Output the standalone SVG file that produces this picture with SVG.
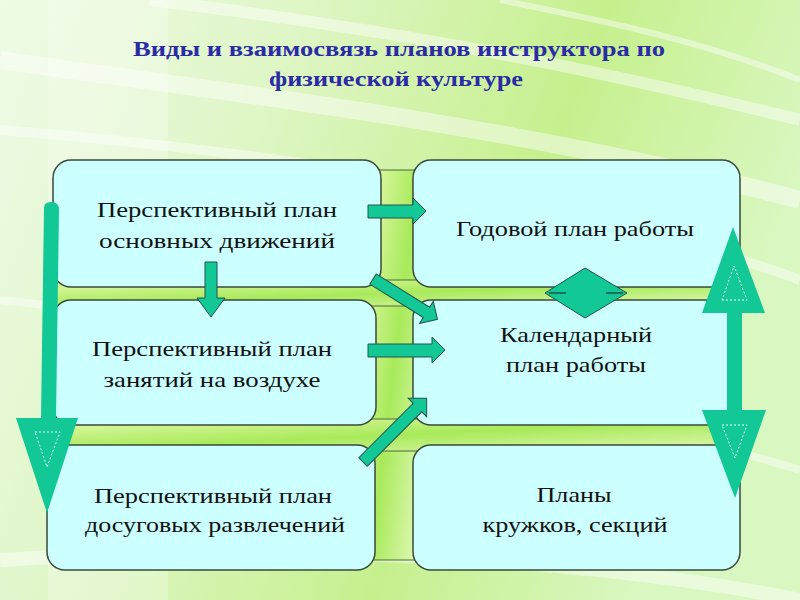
<svg xmlns="http://www.w3.org/2000/svg" width="800" height="600" viewBox="0 0 800 600">
<defs>
<linearGradient id="bg" x1="0" y1="0" x2="1" y2="0.3">
<stop offset="0" stop-color="#eefbe6"/>
<stop offset="0.35" stop-color="#dff6c6"/>
<stop offset="0.7" stop-color="#c6f08e"/>
<stop offset="1" stop-color="#d9f7c0"/>
</linearGradient>
<linearGradient id="strip" x1="0" y1="0" x2="1" y2="1">
<stop offset="0" stop-color="#e6fab0"/>
<stop offset="0.5" stop-color="#a8ea5a"/>
<stop offset="1" stop-color="#e2f8b8"/>
</linearGradient>
<style>
.box{fill:#ccffff;stroke:#3a4a3a;stroke-width:1.5}
.t{font-family:"Liberation Serif","Times New Roman",serif;font-size:22px;fill:#111;text-anchor:middle}
.title{font-family:"Liberation Serif","Times New Roman",serif;font-size:21px;font-weight:bold;fill:#2b2ba6;text-anchor:middle}
.arr{fill:#12c896;stroke:#24524a;stroke-width:1}
.big{fill:#12c896}
.dash{fill:none;stroke:#e8fff0;stroke-width:1;stroke-dasharray:2 2}
.streak{fill:none;stroke:#ffffff}
</style>
</defs>
<rect width="800" height="600" fill="url(#bg)"/>
<g opacity="0.45">
<path class="streak" d="M0,60 C200,90 500,120 800,200" stroke-width="18"/>
<path class="streak" d="M0,130 C250,150 550,190 800,280" stroke-width="10"/>
<path class="streak" d="M150,0 C400,30 600,70 800,120" stroke-width="12"/>
<path class="streak" d="M0,300 C200,320 500,380 800,470" stroke-width="8"/>
<path class="streak" d="M0,560 C300,540 600,560 800,600" stroke-width="14"/>
<path class="streak" d="M500,0 C600,20 700,40 800,80" stroke-width="6"/>
</g>
<rect x="48" y="0" width="120" height="600" fill="#ffffff" opacity="0.25"/>
<g id="frame">
<rect x="370" y="170" width="48" height="390" fill="url(#strip)" stroke="#4a6a3a" stroke-width="1"/>
<rect x="55" y="280" width="685" height="26" fill="url(#strip)" stroke="#4a6a3a" stroke-width="1"/>
<rect x="52" y="419" width="688" height="32" fill="url(#strip)" stroke="#4a6a3a" stroke-width="1"/>
</g>
<g id="title">
<text class="title" x="399" y="56" textLength="532" lengthAdjust="spacingAndGlyphs">Виды и взаимосвязь планов инструктора по</text>
<text class="title" x="396" y="86" textLength="254" lengthAdjust="spacingAndGlyphs">физической культуре</text>
</g>
<g id="n1"><rect class="box" x="53" y="160" width="328" height="127" rx="18"/>
<text class="t" x="217" y="217" textLength="240" lengthAdjust="spacingAndGlyphs">Перспективный план</text>
<text class="t" x="217" y="248" textLength="236" lengthAdjust="spacingAndGlyphs">основных движений</text></g>
<g id="n2"><rect class="box" x="53" y="300" width="323" height="125" rx="18"/>
<text class="t" x="212" y="356" textLength="240" lengthAdjust="spacingAndGlyphs">Перспективный план</text>
<text class="t" x="212" y="387" textLength="217" lengthAdjust="spacingAndGlyphs">занятий на воздухе</text></g>
<g id="n3"><rect class="box" x="47" y="445" width="328" height="125" rx="18"/>
<text class="t" x="213" y="503" textLength="238" lengthAdjust="spacingAndGlyphs">Перспективный план</text>
<text class="t" x="215" y="532" textLength="260" lengthAdjust="spacingAndGlyphs">досуговых развлечений</text></g>
<g id="n4"><rect class="box" x="413" y="160" width="327" height="127" rx="18"/>
<text class="t" x="575" y="236" textLength="238" lengthAdjust="spacingAndGlyphs">Годовой план работы</text></g>
<g id="n5"><rect class="box" x="413" y="300" width="327" height="125" rx="18"/>
<text class="t" x="576" y="342" textLength="152" lengthAdjust="spacingAndGlyphs">Календарный</text>
<text class="t" x="576" y="372" textLength="140" lengthAdjust="spacingAndGlyphs">план работы</text></g>
<g id="n6"><rect class="box" x="413" y="445" width="327" height="125" rx="18"/>
<text class="t" x="574" y="502" textLength="75" lengthAdjust="spacingAndGlyphs">Планы</text>
<text class="t" x="575" y="532" textLength="185" lengthAdjust="spacingAndGlyphs">кружков, секций</text></g>
<g id="connectors">
<polygon class="arr" points="368,205 413,205 413,198 426,211 413,224 413,218 368,218"/>
<polygon class="arr" points="205,262 217,262 217,298 225,298 211,317 197,298 205,298"/>
<polygon class="arr" points="368,344 432,344 432,337 445,350 432,363 432,357 368,357"/>
<g transform="translate(373,279) rotate(32)"><polygon class="arr" points="0,-6 63,-6 63,-13 76,0 63,13 63,6 0,6"/></g>
<g transform="translate(363,462) rotate(-45)"><polygon class="arr" points="0,-6 77,-6 77,-13 90,0 77,13 77,6 0,6"/></g>
<polygon class="arr" points="545,293 585,268 627,293 585,318" stroke="#333"/>
<line x1="549" y1="293" x2="566" y2="293" stroke="#24524a" stroke-width="1.5"/>
<line x1="606" y1="293" x2="623" y2="293" stroke="#24524a" stroke-width="1.5"/>
<path class="big" d="M44,208 Q44,202 51,202 Q59,202 59,210 L56,418 L78,418 L47,513 L16,418 L41,418 Z"/>
<polygon class="dash" points="35,432 60,432 47,467"/>
<polygon class="big" points="733,227 765,313 742,313 742,410 766,410 735,498 702,410 727,410 727,313 702,313"/>
<polygon class="dash" points="722,300 747,300 734,266"/>
<polygon class="dash" points="722,425 747,425 735,458"/>
</g>
</svg>
